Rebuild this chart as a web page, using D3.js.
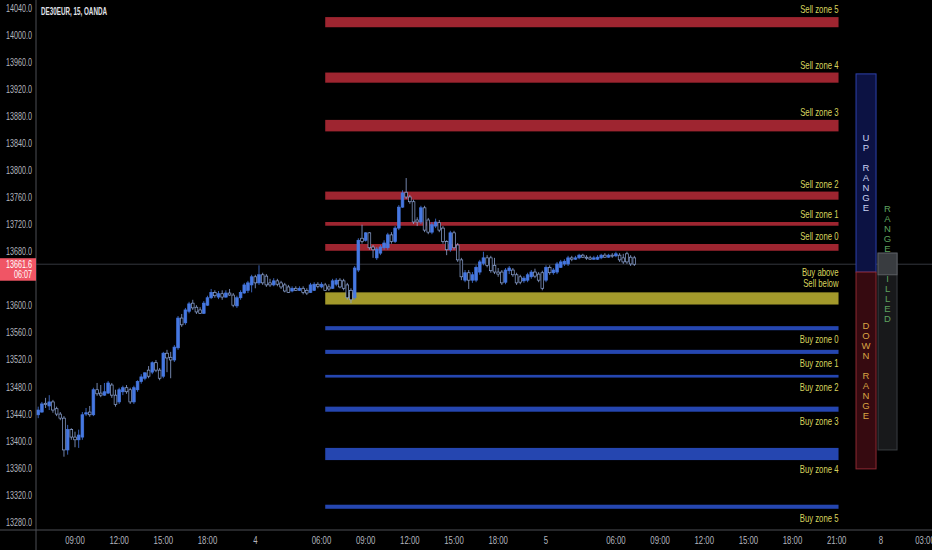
<!DOCTYPE html>
<html>
<head>
<meta charset="utf-8">
<script src="https://cdn.jsdelivr.net/npm/d3@7"></script>
<style>
  html, body { margin: 0; padding: 0; background: #000; }
  svg { display: block; }
  text { font-family: "Liberation Sans", "DejaVu Sans", sans-serif; }
  .axis-label { fill: #b2b5be; font-size: 10px; }
  .zone-label { fill: #d8d45e; font-size: 10.5px; }
  .title { fill: #e0e3ea; font-size: 10.5px; font-weight: 600; }
</style>
</head>
<body>
<div id="vis"></div>
<script>

var symbol = "DE30EUR, 15, OANDA";
var lastPrice = 13661.6;
var lastTime = "06:07";

var priceTicks = [13280, 13320, 13360, 13400, 13440, 13480, 13520, 13560, 13600, 13640,
                  13680, 13720, 13760, 13800, 13840, 13880, 13920, 13960, 14000, 14040];

var timeLabels = ["09:00","12:00","15:00","18:00","4","06:00","09:00","12:00","15:00","18:00",
                  "5","06:00","09:00","12:00","15:00","18:00","21:00","8","03:00"];
var timeBars = [10, 22, 34, 46, 59, 77, 89, 101, 113, 125, 138, 157, 169, 181, 193, 205, 217, 229, 241];

// 15 min candles, first one sits on bar 0
var opens = [13439,13443,13456,13452,13458,13448,13440,13434,13387,13417,
  13406,13402,13406,13440,13443,13439,13476,13471,13468,13471,
  13483,13468,13458,13473,13479,13476,13458,13476,13488,13493,
  13505,13502,13516,13505,13496,13530,13524,13520,13538,13582,
  13575,13592,13604,13598,13594,13589,13601,13612,13620,13613,
  13618,13613,13619,13616,13600,13612,13619,13623,13631,13643,
  13634,13646,13644,13634,13631,13637,13634,13631,13628,13622,
  13626,13623,13626,13623,13620,13623,13632,13628,13631,13628,
  13626,13632,13638,13637,13631,13623,13612,13653,13700,13697,
  13708,13687,13671,13678,13686,13686,13705,13695,13715,13746,
  13768,13761,13754,13727,13724,13745,13727,13709,13718,13723,
  13715,13695,13683,13708,13690,13668,13638,13649,13638,13638,
  13650,13663,13671,13671,13660,13650,13650,13635,13652,13653,
  13646,13643,13637,13638,13643,13650,13647,13649,13638,13657,
  13649,13650,13657,13662,13662,13671,13669,13671,13675,13672,
  13671,13669,13669,13671,13675,13672,13675,13674,13675,13671,
  13677,13672,13671];

var highs = [13451,13458,13464,13468,13461,13451,13443,13437,13424,13419,
  13414,13417,13443,13449,13452,13479,13486,13483,13486,13489,
  13486,13476,13479,13482,13483,13479,13482,13490,13499,13502,
  13511,13518,13520,13508,13532,13535,13532,13542,13585,13588,
  13597,13606,13609,13601,13598,13607,13615,13625,13623,13622,
  13623,13623,13625,13619,13615,13623,13634,13637,13646,13646,
  13660,13649,13647,13640,13641,13640,13637,13634,13631,13629,
  13629,13629,13629,13626,13634,13635,13635,13635,13634,13632,
  13640,13641,13641,13640,13634,13626,13659,13700,13720,13709,
  13709,13690,13687,13690,13697,13708,13709,13718,13749,13771,
  13789,13764,13757,13731,13748,13748,13730,13724,13729,13727,
  13718,13697,13711,13711,13693,13671,13653,13653,13650,13660,
  13668,13680,13675,13674,13671,13656,13653,13656,13659,13656,
  13649,13646,13644,13649,13653,13655,13650,13652,13660,13660,
  13656,13665,13668,13669,13674,13674,13674,13677,13677,13675,
  13674,13674,13675,13677,13678,13677,13678,13680,13678,13677,
  13680,13675,13674];

var lows = [13434,13442,13449,13446,13442,13437,13431,13377,13380,13402,
  13391,13390,13402,13437,13436,13437,13467,13465,13467,13470,
  13464,13451,13455,13468,13470,13455,13455,13473,13485,13490,
  13493,13499,13502,13490,13493,13502,13493,13517,13535,13569,
  13572,13589,13594,13588,13588,13588,13600,13610,13612,13610,
  13609,13612,13615,13598,13597,13609,13618,13619,13620,13626,
  13631,13631,13628,13628,13629,13629,13625,13620,13619,13620,
  13622,13622,13617,13616,13619,13622,13626,13626,13622,13622,
  13625,13629,13626,13623,13609,13604,13609,13650,13692,13695,
  13683,13671,13668,13675,13683,13683,13692,13693,13712,13745,
  13758,13751,13721,13718,13721,13709,13706,13706,13715,13709,
  13692,13675,13680,13683,13665,13638,13635,13625,13634,13635,
  13646,13660,13657,13649,13647,13643,13631,13632,13647,13643,
  13631,13632,13634,13635,13640,13641,13635,13623,13635,13646,
  13646,13647,13656,13659,13659,13666,13668,13669,13671,13668,
  13668,13668,13668,13669,13671,13671,13671,13672,13665,13662,
  13662,13659,13659];

var closes = [13446,13455,13454,13458,13446,13440,13434,13387,13417,13406,
  13402,13409,13439,13442,13439,13476,13470,13468,13473,13486,
  13468,13454,13476,13479,13473,13458,13479,13488,13495,13501,
  13496,13516,13505,13493,13530,13523,13520,13539,13582,13572,
  13594,13603,13597,13591,13589,13604,13612,13620,13615,13618,
  13613,13619,13616,13601,13612,13620,13631,13634,13643,13634,
  13646,13634,13631,13631,13637,13632,13628,13622,13620,13626,
  13623,13626,13620,13619,13631,13632,13629,13632,13623,13625,
  13637,13638,13628,13626,13612,13609,13656,13697,13695,13708,
  13686,13683,13684,13687,13693,13705,13695,13715,13746,13767,
  13761,13754,13724,13724,13745,13712,13709,13720,13724,13712,
  13695,13683,13708,13686,13668,13643,13649,13638,13646,13657,
  13665,13671,13660,13652,13650,13647,13634,13653,13656,13646,
  13634,13635,13641,13646,13650,13644,13638,13626,13657,13649,
  13653,13662,13665,13666,13671,13669,13671,13675,13672,13671,
  13669,13671,13672,13675,13672,13675,13674,13677,13668,13665,
  13665,13662,13661.6];

// zone bands (price top / bottom)
var zoneNames = ["Sell zone 5","Sell zone 4","Sell zone 3","Sell zone 2","Sell zone 1","Sell zone 0",
                 "Buy above|Sell below",
                 "Buy zone 0","Buy zone 1","Buy zone 2","Buy zone 3","Buy zone 4","Buy zone 5"];
var zoneKinds = ["sell","sell","sell","sell","sell","sell","mid","buy","buy","buy","buy","buy","buy"];
var zoneTops = [14027, 13945, 13875, 13769, 13724, 13691.5, 13620, 13570, 13535, 13498, 13451, 13390, 13306];
var zoneBottoms = [14012, 13930, 13858, 13757, 13718.5, 13681.5, 13602, 13564, 13529, 13494, 13443.5, 13372, 13300];
var zoneFromBar = 78;
var zoneToBar = 217.5;

// range boxes at the right
var rangeNames = ["UP RANGE", "DOWN RANGE", "RANGE FILLED"];
var rangeTops = [13943, 13650, 13678];
var rangeBottoms = [13650, 13359, 13387];
var rangeFilledTo = 13646;

var chart = function() {

  var width = 932;
  var height = 550;
  var plotLeft = 36;
  var axisY = 530;
  var barWidth = 2.7;
  var letterStep = 10;

  var zoneColors = {sell: "#9e2530", mid: "#a3992b", buy: "#2546b0"};
  var upColor = "#4678e2";
  var downColor = "#8ea5d6";

  var boxStyles = [
    {fill: "#0c1243", stroke: "#2d41ac", text: "#c9d0f2", dx: 17.5, w: 20},
    {fill: "#360a10", stroke: "#8e2a33", text: "#d9a443", dx: 17.5, w: 20},
    {fill: "#18191b", stroke: "#3b3e43", text: "#5fa35f", dx: 39.5, w: 19}
  ];

  // the chart font is narrow, squeeze text horizontally around its x
  function squeeze(selection, sx) {
    selection.attr("transform", function() {
      var x0 = +d3.select(this).attr("x");
      return "translate(" + x0 + ",0) scale(" + sx + ",1) translate(" + (-x0) + ",0)";
    });
  }

  function draw(selection) {
    var x = d3.scaleLinear().domain([-0.6, 242.9]).range([plotLeft, width]);
    var y = d3.scaleLinear().domain([13280, 14040]).range([522.3, 8.3]);

    var svg = selection.append("svg")
      .attr("width", width)
      .attr("height", height);

    svg.append("rect")
      .attr("width", width)
      .attr("height", height)
      .attr("fill", "#000");

    // zones
    var zx0 = x(zoneFromBar);
    var zx1 = x(zoneToBar);

    svg.selectAll(".zone")
      .data(zoneNames).enter()
      .append("rect")
      .attr("class", "zone")
      .attr("x", zx0)
      .attr("width", zx1 - zx0)
      .attr("y", function(d, i) { return y(zoneTops[i]); })
      .attr("height", function(d, i) { return y(zoneBottoms[i]) - y(zoneTops[i]); })
      .attr("fill", function(d, i) { return zoneColors[zoneKinds[i]]; });

    svg.selectAll(".zone-label")
      .data(zoneNames).enter()
      .append("text")
      .attr("class", "zone-label")
      .attr("text-anchor", "end")
      .attr("x", zx1)
      .attr("y", function(d, i) {
        if (zoneKinds[i] === "buy") return y(zoneBottoms[i]) + 13;
        if (zoneKinds[i] === "mid") return y(zoneTops[i]) - 16;
        return y(zoneTops[i]) - 4;
      })
      .each(function(d) {
        var parts = d.split("|");
        var t = d3.select(this);
        parts.forEach(function(p, k) {
          t.append("tspan").attr("x", zx1).attr("dy", k === 0 ? 0 : 11).text(p);
        });
      })
      .call(squeeze, 0.74);

    // last price line
    svg.append("line")
      .attr("x1", plotLeft).attr("x2", width)
      .attr("y1", y(lastPrice)).attr("y2", y(lastPrice))
      .attr("stroke", "#34373d")
      .attr("stroke-width", 1);

    // candles
    var candles = opens.map(function(o, i) {
      return {bar: i, o: o, h: highs[i], l: lows[i], c: closes[i]};
    });

    var cg = svg.append("g").attr("class", "candles");

    cg.selectAll(".wick")
      .data(candles).enter()
      .append("line")
      .attr("class", "wick")
      .attr("x1", function(d) { return x(d.bar); })
      .attr("x2", function(d) { return x(d.bar); })
      .attr("y1", function(d) { return y(d.h); })
      .attr("y2", function(d) { return y(d.l); })
      .attr("stroke", function(d) { return d.c >= d.o ? upColor : downColor; })
      .attr("stroke-width", 0.8);

    cg.selectAll(".body")
      .data(candles).enter()
      .append("rect")
      .attr("class", "body")
      .attr("x", function(d) { return x(d.bar) - barWidth / 2; })
      .attr("width", barWidth)
      .attr("y", function(d) { return y(Math.max(d.o, d.c)); })
      .attr("height", function(d) { return Math.max(1, Math.abs(y(d.o) - y(d.c))); })
      .attr("fill", function(d) { return d.c >= d.o ? upColor : "#000"; })
      .attr("stroke", function(d) { return d.c >= d.o ? upColor : downColor; })
      .attr("stroke-width", 0.7);

    // range boxes
    var rb = svg.selectAll(".range-box")
      .data(rangeNames).enter()
      .append("g")
      .attr("class", "range-box");

    rb.append("rect")
      .attr("x", function(d, i) { return zx1 + boxStyles[i].dx; })
      .attr("width", function(d, i) { return boxStyles[i].w; })
      .attr("y", function(d, i) { return y(rangeTops[i]); })
      .attr("height", function(d, i) { return y(rangeBottoms[i]) - y(rangeTops[i]); })
      .attr("fill", function(d, i) { return boxStyles[i].fill; })
      .attr("stroke", function(d, i) { return boxStyles[i].stroke; })
      .attr("stroke-width", 1);

    svg.append("rect")
      .attr("x", zx1 + boxStyles[2].dx)
      .attr("width", boxStyles[2].w)
      .attr("y", y(rangeTops[2]))
      .attr("height", y(rangeFilledTo) - y(rangeTops[2]))
      .attr("fill", "#393c40")
      .attr("stroke", "#5b5e63")
      .attr("stroke-width", 1);

    rb.each(function(name, i) {
      var letters = name.split("");
      var cx = zx1 + boxStyles[i].dx + boxStyles[i].w / 2;
      var cy = i === 2 ? (y(rangeTops[2]) + y(rangeFilledTo)) / 2
                       : (y(rangeTops[i]) + y(rangeBottoms[i])) / 2;
      d3.select(this).selectAll("text")
        .data(letters).enter()
        .append("text")
        .attr("x", cx)
        .attr("y", function(d, k) { return cy + (k - (letters.length - 1) / 2) * letterStep; })
        .attr("dy", "0.35em")
        .attr("text-anchor", "middle")
        .attr("font-size", 9.5)
        .attr("fill", boxStyles[i].text)
        .text(function(d) { return d; });
    });

    // axes
    svg.append("rect")
      .attr("x", 0).attr("y", 0)
      .attr("width", plotLeft).attr("height", height)
      .attr("fill", "#000");

    svg.append("line")
      .attr("x1", plotLeft).attr("x2", plotLeft)
      .attr("y1", 0).attr("y2", height)
      .attr("stroke", "#4d4f55");

    svg.append("line")
      .attr("x1", 0).attr("x2", width)
      .attr("y1", axisY).attr("y2", axisY)
      .attr("stroke", "#4d4f55");

    // price tag covers the tick label that falls under it
    var py = y(lastPrice);
    var tagTop = py - 6;
    var tagBottom = py + 16.5;

    svg.selectAll(".price-tick")
      .data(priceTicks.filter(function(d) { return y(d) < tagTop - 3 || y(d) > tagBottom + 3; }))
      .enter()
      .append("text")
      .attr("class", "axis-label price-tick")
      .attr("text-anchor", "end")
      .attr("x", plotLeft - 4)
      .attr("y", function(d) { return y(d); })
      .attr("dy", "0.35em")
      .text(function(d) { return d3.format(".1f")(d); })
      .call(squeeze, 0.72);

    svg.selectAll(".time-tick")
      .data(timeLabels).enter()
      .append("text")
      .attr("class", "axis-label time-tick")
      .attr("text-anchor", "middle")
      .attr("x", function(d, i) { return x(timeBars[i]); })
      .attr("y", 544.5)
      .text(function(d) { return d; })
      .call(squeeze, 0.78);

    // last price tag
    svg.append("rect")
      .attr("x", 0).attr("y", tagTop)
      .attr("width", plotLeft).attr("height", tagBottom - tagTop)
      .attr("fill", "#f05565");

    svg.append("text")
      .attr("class", "axis-label")
      .attr("text-anchor", "end")
      .attr("x", plotLeft - 4)
      .attr("y", py + 4)
      .style("fill", "#fff")
      .text(d3.format(".1f")(lastPrice))
      .call(squeeze, 0.72);

    svg.append("text")
      .attr("class", "axis-label")
      .attr("text-anchor", "end")
      .attr("x", plotLeft - 4)
      .attr("y", py + 14)
      .style("fill", "#fff")
      .text(lastTime)
      .call(squeeze, 0.72);

    svg.append("text")
      .attr("class", "title")
      .attr("x", 41)
      .attr("y", 15.5)
      .text(symbol)
      .call(squeeze, 0.6);
  }

  return draw;
};

d3.select("#vis").call(chart());

</script>
</body>
</html>
